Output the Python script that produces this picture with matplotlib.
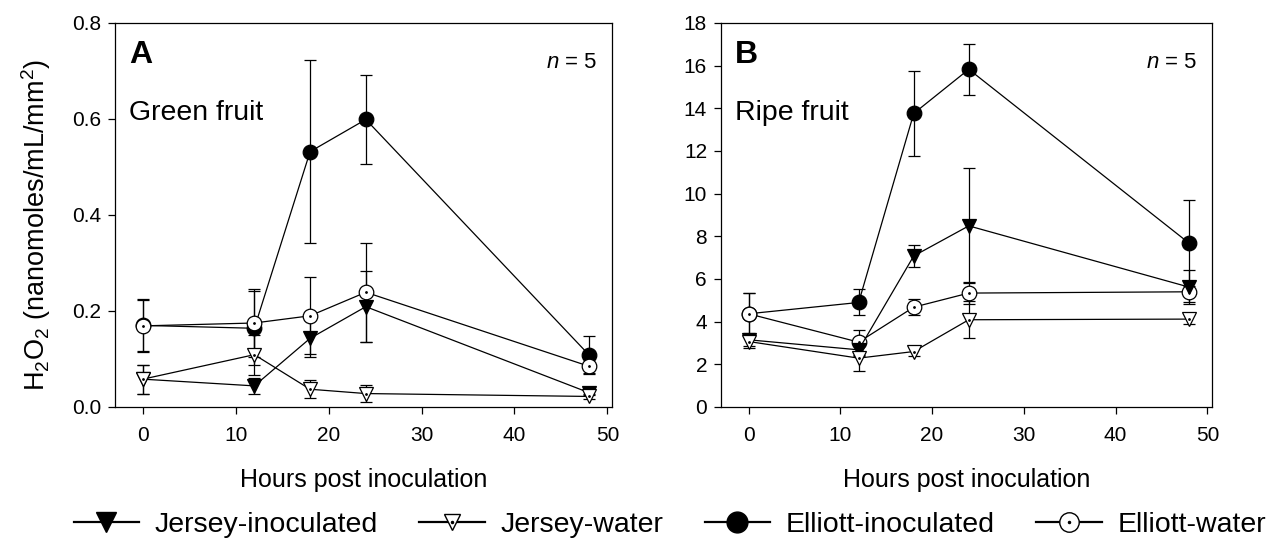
import matplotlib.pyplot as plt
from matplotlib.lines import Line2D

plt.rcParams['font.family'] = ['Liberation Sans', 'DejaVu Sans']
plt.rcParams['mathtext.fontset'] = 'custom'
plt.rcParams['mathtext.rm'] = 'Liberation Sans'
plt.rcParams['mathtext.it'] = 'Liberation Sans:italic'

hours = [0, 12, 18, 24, 48]

# Panel A: green fruit
green_jersey_inoc = [0.058, 0.044, 0.143, 0.209, 0.030]
green_jersey_inoc_err = [0.030, 0.016, 0.038, 0.074, 0.005]
green_jersey_water = [0.058, 0.109, 0.037, 0.028, 0.022]
green_jersey_water_err = [0.030, 0.042, 0.019, 0.017, 0.006]
green_elliott_inoc = [0.170, 0.164, 0.532, 0.599, 0.109]
green_elliott_inoc_err = [0.054, 0.077, 0.190, 0.092, 0.038]
green_elliott_water = [0.169, 0.175, 0.190, 0.239, 0.085]
green_elliott_water_err = [0.054, 0.071, 0.080, 0.103, 0.016]

# Panel B: ripe fruit
ripe_jersey_inoc = [3.15, 2.68, 7.08, 8.49, 5.62]
ripe_jersey_inoc_err = [0.30, 0.30, 0.52, 2.70, 0.78]
ripe_jersey_water = [3.07, 2.29, 2.60, 4.09, 4.12]
ripe_jersey_water_err = [0.31, 0.62, 0.22, 0.86, 0.25]
ripe_elliott_inoc = [4.37, 4.90, 13.76, 15.83, 7.68]
ripe_elliott_inoc_err = [0.97, 0.61, 1.98, 1.20, 2.02]
ripe_elliott_water = [4.37, 3.04, 4.68, 5.34, 5.40]
ripe_elliott_water_err = [0.97, 0.58, 0.37, 0.50, 0.50]

labels = ['Jersey-inoculated', 'Jersey-water', 'Elliott-inoculated', 'Elliott-water']

fig = plt.figure(figsize=(12.71, 5.38), dpi=100)
axA = fig.add_axes([115 / 1271, 1 - 407 / 538, 497 / 1271, 384 / 538])
axB = fig.add_axes([721 / 1271, 1 - 407 / 538, 491 / 1271, 384 / 538])


def draw_series(ax, y, err, marker, filled, dot):
    face = 'black' if filled else 'white'
    ax.errorbar(hours, y, yerr=err, color='black', lw=0.9, elinewidth=0.9,
                capsize=4.2, capthick=0.9, marker=marker, ms=10.5 if marker == 'o' else 10,
                mfc=face, mec='black', mew=0.9, zorder=3)
    if dot:
        ax.plot(hours, y, ls='none', marker='.', ms=2, color='black', zorder=4)


def panel(ax, data, letter, name, ylim, yticks, yfmt):
    ji, jie, jw, jwe, ei, eie, ew, ewe = data
    draw_series(ax, ei, eie, 'o', True, False)
    draw_series(ax, ew, ewe, 'o', False, True)
    draw_series(ax, ji, jie, 'v', True, False)
    draw_series(ax, jw, jwe, 'v', False, True)
    ax.set_xlim(-3, 50.5)
    ax.set_ylim(*ylim)
    ax.set_xticks([0, 10, 20, 30, 40, 50])
    ax.set_yticks(yticks)
    ax.set_yticklabels([yfmt.format(v) for v in yticks])
    ax.tick_params(direction='out', length=5, width=0.9, labelsize=15)
    ax.tick_params(axis='x', pad=9)
    ax.tick_params(axis='y', pad=5)
    for s in ax.spines.values():
        s.set_linewidth(0.9)
    ax.set_xlabel('Hours post inoculation', fontsize=18, labelpad=16)
    ax.text(0.028, 0.955, letter, transform=ax.transAxes, fontsize=23,
            fontweight='bold', va='top')
    ax.text(0.028, 0.80, name, transform=ax.transAxes, fontsize=20.5, va='top')
    ax.text(0.97, 0.925, r'$n$ = 5', transform=ax.transAxes, fontsize=16,
            va='top', ha='right')


panel(axA, [green_jersey_inoc, green_jersey_inoc_err, green_jersey_water, green_jersey_water_err,
            green_elliott_inoc, green_elliott_inoc_err, green_elliott_water, green_elliott_water_err],
      'A', 'Green fruit', (0, 0.8), [0.0, 0.2, 0.4, 0.6, 0.8], '{:.1f}')
panel(axB, [ripe_jersey_inoc, ripe_jersey_inoc_err, ripe_jersey_water, ripe_jersey_water_err,
            ripe_elliott_inoc, ripe_elliott_inoc_err, ripe_elliott_water, ripe_elliott_water_err],
      'B', 'Ripe fruit', (0, 18), list(range(0, 19, 2)), '{:d}')

axA.set_ylabel(r'H$_2$O$_2$ (nanomoles/mL/mm$^2$)', fontsize=19.5)
axA.yaxis.set_label_coords(-0.125, 0.474)

# legend handles: open markers get a small centre dot like the plot markers
dot = Line2D([], [], ls='none', marker='.', ms=3, color='black')
handles = [
    Line2D([], [], color='black', lw=1.6, marker='v', ms=15, mfc='black', mec='black'),
    (Line2D([], [], color='black', lw=1.6, marker='v', ms=12, mfc='white', mec='black'), dot),
    Line2D([], [], color='black', lw=1.6, marker='o', ms=15, mfc='black', mec='black'),
    (Line2D([], [], color='black', lw=1.6, marker='o', ms=14, mfc='white', mec='black'), dot),
]
fig.legend(handles, labels, loc='center', bbox_to_anchor=(0.527, 13 / 538), ncol=4,
           frameon=False, fontsize=20.5, handlelength=2.3, columnspacing=1.45,
           handletextpad=0.55, borderpad=0.2)

fig.savefig('out.png', dpi=100)
